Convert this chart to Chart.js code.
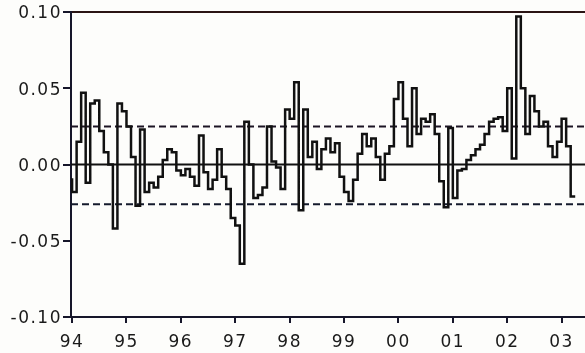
<!DOCTYPE html>
<html>
<head>
<meta charset="utf-8">
<script src="https://cdn.jsdelivr.net/npm/chart.js@4"></script>
<style>
  html, body { margin: 0; padding: 0; background: #fdfdfb; }
  #wrap { width: 585px; height: 353px; position: relative; }
</style>
</head>
<body>
<div id="wrap"><canvas id="lineChart"></canvas></div>
<script>
// DATA
var startYear = 1994;   // first month, Jan 1994
var periodsPerYear = 12;

var seriesValues = [
  -0.009, -0.018, 0.015, 0.047, -0.012, 0.040, 0.042, 0.022, 0.008, 0.000,
  -0.042, 0.040, 0.035, 0.025, 0.005, -0.027, 0.023, -0.018, -0.012, -0.015,
  -0.008, 0.003, 0.010, 0.008, -0.004, -0.007, -0.003, -0.008, -0.014, 0.019,
  -0.005, -0.016, -0.010, 0.010, -0.008, -0.016, -0.035, -0.040, -0.065, 0.028,
  0.000, -0.022, -0.020, -0.015, 0.025, 0.002, -0.002, -0.016, 0.036, 0.030,
  0.054, -0.030, 0.036, 0.005, 0.015, -0.003, 0.010, 0.017, 0.008, 0.014,
  -0.008, -0.018, -0.024, -0.010, 0.007, 0.020, 0.012, 0.017, 0.005, -0.010,
  0.007, 0.012, 0.043, 0.054, 0.030, 0.012, 0.050, 0.020, 0.030, 0.028,
  0.033, 0.020, -0.011, -0.028, 0.024, -0.022, -0.004, -0.003, 0.003, 0.006,
  0.010, 0.013, 0.020, 0.028, 0.030, 0.031, 0.022, 0.050, 0.004, 0.097,
  0.050, 0.020, 0.045, 0.035, 0.025, 0.028, 0.012, 0.005, 0.015, 0.030,
  0.012, -0.021
];

var upperBand = 0.025;
var lowerBand = -0.026;
var zeroLine  = 0;

var yearTicks  = [1994, 1995, 1996, 1997, 1998, 1999, 2000, 2001, 2002, 2003];
var yearLabels = ['94', '95', '96', '97', '98', '99', '00', '01', '02', '03'];
var valueTicks  = [-0.10, -0.05, 0.00, 0.05, 0.10];
var valueLabels = ['-0.10', '-0.05', '0.00', '0.05', '0.10'];

var xMin = 1993.98;
var xMax = 2003.43;

// LOAD
window.addEventListener('load', function() {
  chartMethods();
});

function horizontal(value) {
  return [{ x: xMin, y: value }, { x: xMax, y: value }];
}

// wide, spaced tick text like the original screenshot
var spacedText = {
  id: 'spacedText',
  beforeDraw: function(chart) {
    chart.ctx.letterSpacing = '1.5px';
  }
};

function chartMethods() {
  // Line Chart Start
  var points = seriesValues.map(function(v, i) {
    return { x: startYear + i / periodsPerYear, y: v };
  });

  var axisColor = '#16162a';
  var tickFont  = { family: 'DejaVu Sans', size: 17 };

  const line_data = {
    datasets: [
      {
        label: 'series',
        data: points,
        borderColor: '#111111',
        borderWidth: 2.5,
        stepped: 'after',
        pointRadius: 0,
        order: 1
      },
      {
        label: 'upper',
        data: horizontal(upperBand),
        borderColor: '#1c1424',
        borderWidth: 2,
        borderDash: [7, 4],
        pointRadius: 0,
        order: 2
      },
      {
        label: 'lower',
        data: horizontal(lowerBand),
        borderColor: '#141a2c',
        borderWidth: 2,
        borderDash: [7, 4],
        pointRadius: 0,
        order: 2
      },
      {
        label: 'zero',
        data: horizontal(zeroLine),
        borderColor: '#111111',
        borderWidth: 2,
        pointRadius: 0,
        order: 3
      }
    ]
  };

  const line_config = {
    type: 'line',
    data: line_data,
    plugins: [spacedText],
    options: {
      responsive: true,
      maintainAspectRatio: false,
      animation: false,
      layout: { padding: { top: 0, right: 0, left: 0, bottom: 0 } },
      plugins: {
        legend: { display: false },
        tooltip: { enabled: false }
      },
      scales: {
        x: {
          type: 'linear',
          min: xMin,
          max: xMax,
          afterBuildTicks: function(scale) {
            scale.ticks = yearTicks.map(function(v) { return { value: v }; });
          },
          afterFit: function(scale) { scale.height = 36; },
          ticks: {
            color: '#1a1a1a',
            font: tickFont,
            padding: 9,
            maxRotation: 0,
            autoSkip: false,
            callback: function(value) {
              return yearLabels[yearTicks.indexOf(Math.round(value))];
            }
          },
          grid: {
            drawOnChartArea: false,
            drawTicks: true,
            tickLength: 6,
            color: axisColor,
            lineWidth: 2
          },
          border: { display: true, color: axisColor, width: 2 }
        },
        xTop: {
          type: 'linear',
          position: 'top',
          min: xMin,
          max: xMax,
          afterFit: function(scale) { scale.height = 12; },
          ticks: { display: false },
          grid: { display: false, drawTicks: false },
          border: { display: true, color: '#2a1414', width: 2 }
        },
        y: {
          min: -0.10,
          max: 0.10,
          afterBuildTicks: function(scale) {
            scale.ticks = valueTicks.map(function(v) { return { value: v }; });
          },
          afterFit: function(scale) { scale.width = 71; },
          ticks: {
            color: '#1a1a1a',
            font: tickFont,
            padding: 1,
            labelOffset: 2,
            callback: function(value) {
              var i = valueTicks.findIndex(function(t) { return Math.abs(t - value) < 1e-9; });
              return valueLabels[i];
            }
          },
          grid: {
            drawOnChartArea: false,
            drawTicks: true,
            tickLength: 8,
            color: axisColor,
            lineWidth: 2
          },
          border: { display: true, color: axisColor, width: 2 }
        }
      }
    }
  };
  var lineChart = new Chart(document.getElementById('lineChart'), line_config);
  // Line Chart End
}
</script>
</body>
</html>
